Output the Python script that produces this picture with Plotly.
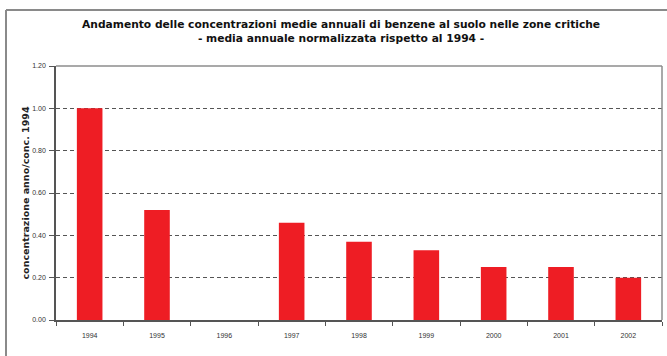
import plotly.graph_objects as go

# Normalised annual mean benzene concentration (1994 = 1.00)
years = ["1994", "1995", "1996", "1997", "1998", "1999", "2000", "2001", "2002"]
values = [1.00, 0.52, None, 0.46, 0.37, 0.33, 0.25, 0.25, 0.20]
y_ticks = [0.0, 0.2, 0.4, 0.6, 0.8, 1.0, 1.2]
y_tick_text = ["0.00", "0.20", "0.40", "0.60", "0.80", "1.00", "1.20"]

title_lines = [
    "Andamento delle concentrazioni medie annuali di benzene al suolo nelle zone critiche",
    "- media annuale normalizzata rispetto al 1994 -",
]
y_title = "concentrazione anno/conc. 1994"

W, H = 667, 356
ML, MR, MT, MB = 56, 5, 66, 36
plot_w = W - ML - MR
plot_h = H - MT - MB

fig = go.Figure(
    go.Bar(
        x=years,
        y=values,
        marker=dict(color="#ee1d24", line=dict(width=0)),
        width=0.38,
    )
)

# outer chart frame (left and top edges)
fx = -(ML - 6) / plot_w
fy = (H - MB - 10) / plot_h
fig.add_shape(type="line", xref="paper", yref="paper", x0=fx, x1=fx, y0=-(MB + 5) / plot_h, y1=fy,
              line=dict(color="#8a8a8a", width=2))
fig.add_shape(type="line", xref="paper", yref="paper", x0=fx, x1=(W - ML + 5) / plot_w, y0=fy, y1=fy,
              line=dict(color="#8a8a8a", width=2))
# plot area border (top and right)
fig.add_shape(type="line", xref="paper", yref="paper", x0=0, x1=1, y0=1, y1=1,
              line=dict(color="#8c8c8c", width=1.5))
fig.add_shape(type="line", xref="paper", yref="paper", x0=1, x1=1, y0=0, y1=1,
              line=dict(color="#8c8c8c", width=1.5))

fig.add_annotation(
    text="<b>" + title_lines[0] + "</b><br><b>" + title_lines[1] + "</b>",
    xref="paper", yref="paper", x=(341 - ML) / plot_w, y=(H - MB - 31) / plot_h,
    showarrow=False, xanchor="center", yanchor="middle",
    font=dict(family="DejaVu Sans, sans-serif", size=10.7, color="#111111"),
)

fig.update_layout(
    width=W, height=H,
    margin=dict(l=ML, r=MR, t=MT, b=MB),
    paper_bgcolor="white", plot_bgcolor="white",
    showlegend=False,
    bargap=0.6,
    font=dict(family="Liberation Sans, Arial, sans-serif", size=7, color="#333333"),
)
fig.update_xaxes(
    type="category",
    showline=True, linecolor="#555555", linewidth=1.5,
    ticks="outside", ticklen=4, tickcolor="#555555", tickson="boundaries",
    ticklabelstandoff=8,
    showgrid=False, tickfont=dict(size=7, color="#333333"),
)
fig.update_yaxes(
    range=[0, 1.2],
    tickvals=y_ticks, ticktext=y_tick_text,
    showline=True, linecolor="#555555", linewidth=1.5,
    ticks="outside", ticklen=5, tickcolor="#555555",
    ticklabelstandoff=2,
    showgrid=True, gridcolor="#555555", gridwidth=1.3, griddash="4px,3px",
    zeroline=False,
    tickfont=dict(size=7, color="#333333"),
    title=dict(text="<b>" + y_title + "</b>",
               font=dict(family="DejaVu Sans, sans-serif", size=9.5, color="#222222"), standoff=1),
)

fig.write_html("out.html")
